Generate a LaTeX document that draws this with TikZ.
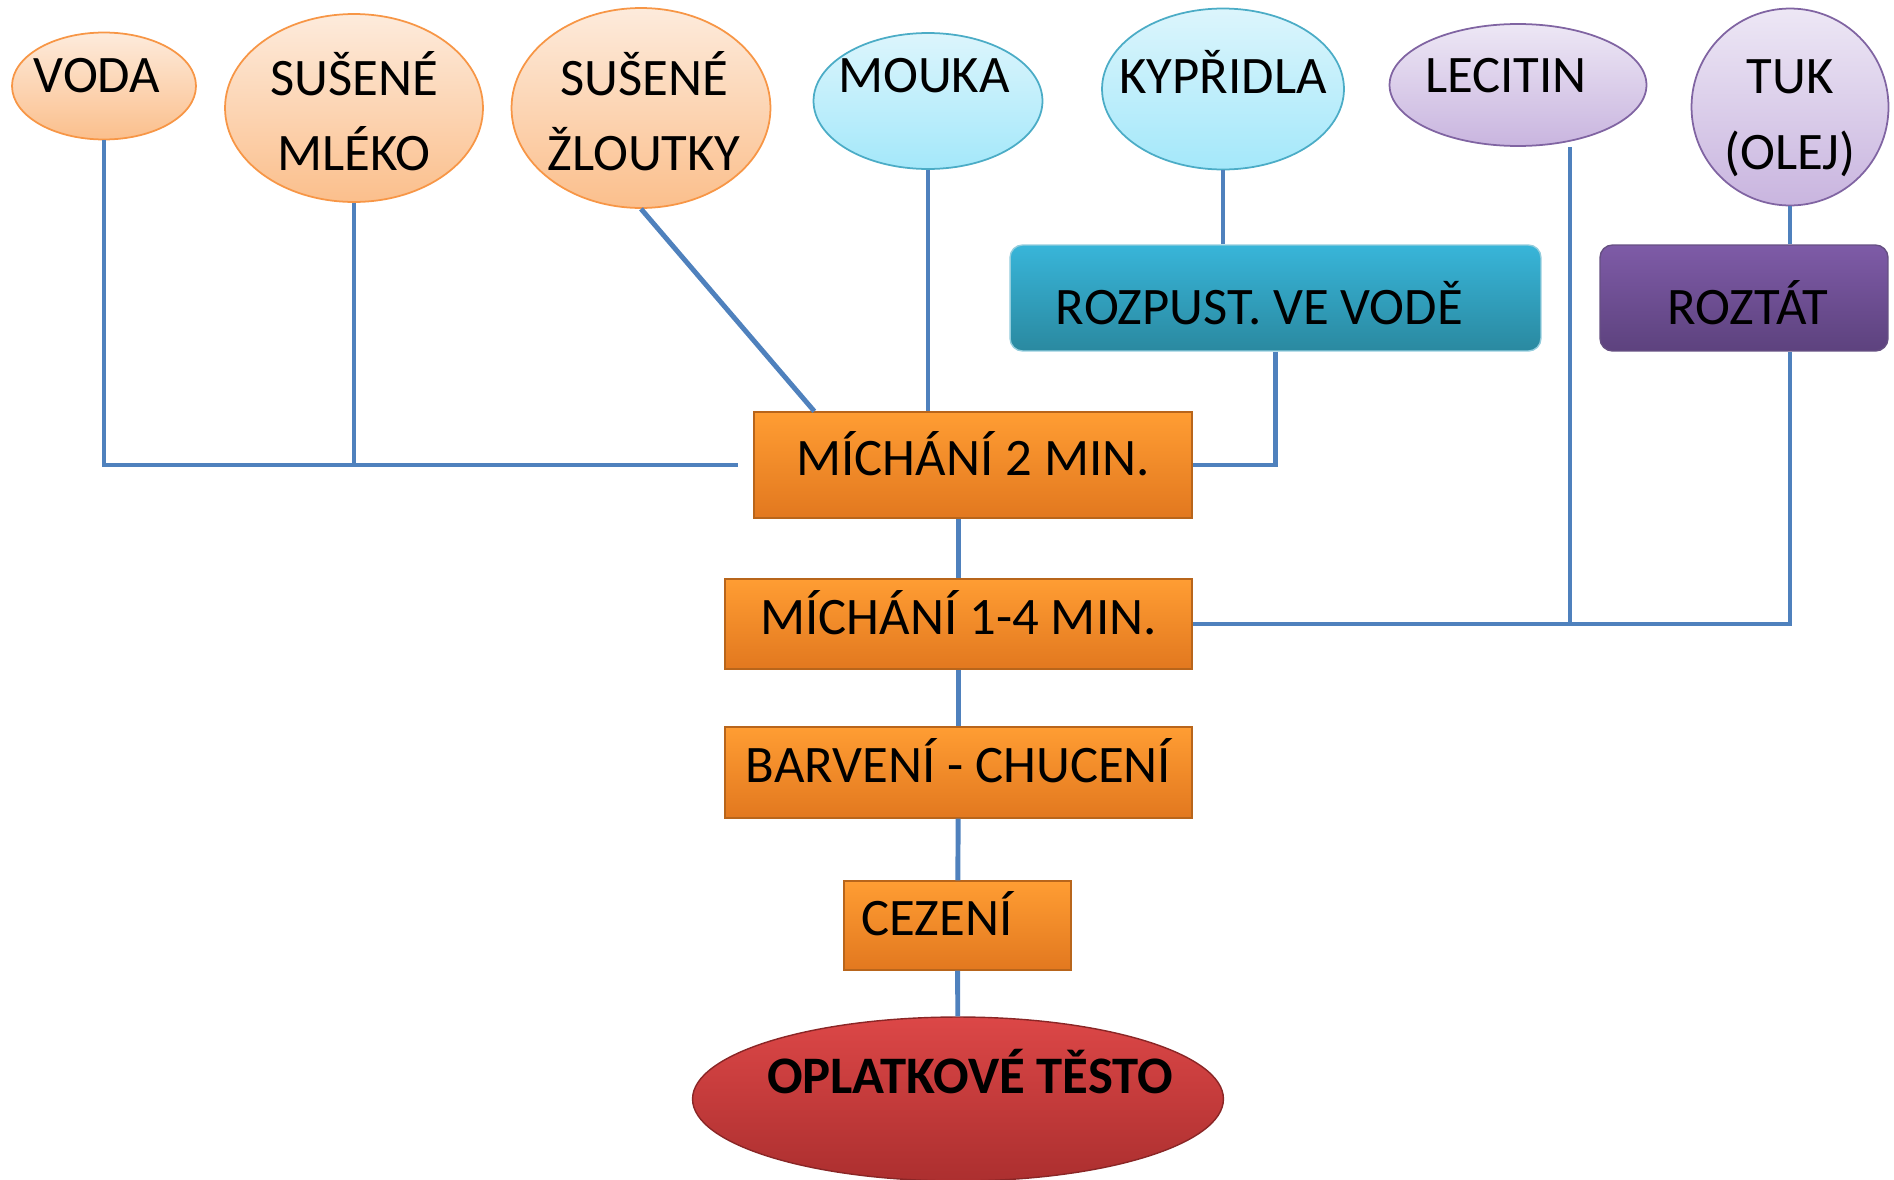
\documentclass[tikz,border=0pt]{standalone}
\usepackage{fontspec}
\setmainfont{Carlito}
\usetikzlibrary{shapes.geometric}

\definecolor{linkblue}{HTML}{4F81BD}
\definecolor{ortop}{HTML}{FDEBDC}
\definecolor{orbot}{HTML}{FBBF8C}
\definecolor{ordraw}{HTML}{F79646}
\definecolor{cytop}{HTML}{DCF5FC}
\definecolor{cybot}{HTML}{A4E8FA}
\definecolor{cydraw}{HTML}{4BACC6}
\definecolor{putop}{HTML}{EDE7F5}
\definecolor{pubot}{HTML}{C9B5DF}
\definecolor{pudraw}{HTML}{8064A2}
\definecolor{boxtop}{HTML}{FF9D33}
\definecolor{boxbot}{HTML}{E2781F}
\definecolor{boxdraw}{HTML}{B8651B}
\definecolor{rztop}{HTML}{38B5D9}
\definecolor{rzbot}{HTML}{2A89A0}
\definecolor{rttop}{HTML}{7E5BA7}
\definecolor{rtbot}{HTML}{5D427E}
\definecolor{redtop}{HTML}{DC4747}
\definecolor{redbot}{HTML}{AC2F2F}

\begin{document}
\begin{tikzpicture}[
	x=0.02cm, y=-0.02cm,
	every node/.style={ font=\fontsize{30}{43}\selectfont, align=center, inner sep=0pt },
	ingro/.style={ ellipse, draw=ordraw, line width=1pt, top color=ortop, bottom color=orbot },
	ingrc/.style={ ellipse, draw=cydraw, line width=1pt, top color=cytop, bottom color=cybot },
	ingrp/.style={ ellipse, draw=pudraw, line width=1pt, top color=putop, bottom color=pubot },
	stepo/.style={ rectangle, draw=boxdraw, line width=0.8pt, top color=boxtop, bottom color=boxbot,
		text height=19.3pt, text depth=7.5pt },
	prep/.style={ rectangle, rounded corners=0.25cm, line width=0.8pt, minimum height=2.12cm,
		text height=30.6pt, text depth=0pt },
	link/.style={ linkblue, line width=2.8pt }
]
\useasboundingbox (0,0) rectangle (1894,1180);

\node[ingro, minimum width=3.68cm, minimum height=2.14cm, label={[xshift=-0.14cm, yshift=0.2cm]center:VODA}] at (104,86) (voda) {};
\node[ingro, minimum width=5.16cm, minimum height=3.76cm, label={[yshift=-0.06cm]center:{SUŠENÉ\\MLÉKO}}] at (354,108) (mleko) {};
\node[ingro, minimum width=5.18cm, minimum height=4.0cm, label={[xshift=0.06cm, yshift=-0.06cm]center:{SUŠENÉ\\ŽLOUTKY}}] at (641,108) (zloutky) {};
\node[ingrc, minimum width=4.58cm, minimum height=2.72cm, label={[xshift=-0.08cm, yshift=0.5cm]center:MOUKA}] at (928,101) (mouka) {};
\node[ingrc, minimum width=4.84cm, minimum height=3.22cm, label={[yshift=0.34cm]center:KYPŘIDLA}] at (1223,89) (kypr) {};
\node[ingrp, minimum width=5.14cm, minimum height=2.44cm, label={[xshift=-0.24cm, yshift=0.18cm]center:LECITIN}] at (1518,85) (lecitin) {};
\node[ingrp, minimum width=3.94cm, minimum height=3.94cm, label={[yshift=-0.22cm]center:{TUK\\(OLEJ)}}] at (1790,107) (tuk) {};

\node[prep, draw=cydraw!60, top color=rztop, bottom color=rzbot, minimum width=10.62cm] at (1275.5,298) (rozp) {ROZPUST. VE VODĚ\hspace*{0.64cm}};
\node[prep, draw=pudraw!80!black, top color=rttop, bottom color=rtbot, minimum width=5.76cm] at (1744,298) (roztat) {\hspace*{0.16cm}ROZTÁT};

\node[stepo, minimum width=8.76cm, minimum height=2.12cm] at (973,465) (mix2) {MÍCHÁNÍ 2 MIN.};
\node[stepo, minimum width=9.34cm, minimum height=1.8cm] at (958.5,624) (mix14) {MÍCHÁNÍ 1-4 MIN.};
\node[stepo, minimum width=9.34cm, minimum height=1.82cm] at (958.5,772.5) (barv) {BARVENÍ - CHUCENÍ};
\node[stepo, minimum width=4.54cm, minimum height=1.78cm, text width=3.86cm, align=flush left] at (957.5,925.5) (cez) {CEZENÍ};
\node[ellipse, draw=redbot!80!black, line width=0.8pt, top color=redtop, bottom color=redbot,
	minimum width=10.62cm, minimum height=3.28cm,
	label={[xshift=0.24cm, yshift=0.54cm, font=\fontsize{30}{43}\selectfont\bfseries]center:OPLATKOVÉ TĚSTO}] at (958,1099) (testo) {};

% prisady do prvniho michani
\draw[link] (voda.south) |- ([xshift=-0.3cm]mix2.west);
\draw[link] (mleko.south) -- (mleko.south |- mix2.west);
\draw[link] (zloutky.south) -- ([xshift=1.22cm]mix2.north west);
\draw[link] (mouka.south) -- (mouka.south |- mix2.north);
\draw[link] (kypr.south) -- (kypr.south |- rozp.north);
\draw[link] (rozp.south) |- (mix2.east);

% prisady do druheho michani
\coordinate (leci) at ([xshift=1.04cm]lecitin.south);
\draw[link] (leci) -- (leci |- mix14.east);
\draw[link] (tuk.south) -- (tuk.south |- roztat.north);
\draw[link] (tuk.south |- roztat.south) |- (mix14.east);

\draw[link] (mix14.north) -- (mix14.north |- mix2.south);
\foreach \a/\b in {mix14/barv, barv/cez, cez/testo} \draw[link] (\a) -- (\b);

\end{tikzpicture}
\end{document}
